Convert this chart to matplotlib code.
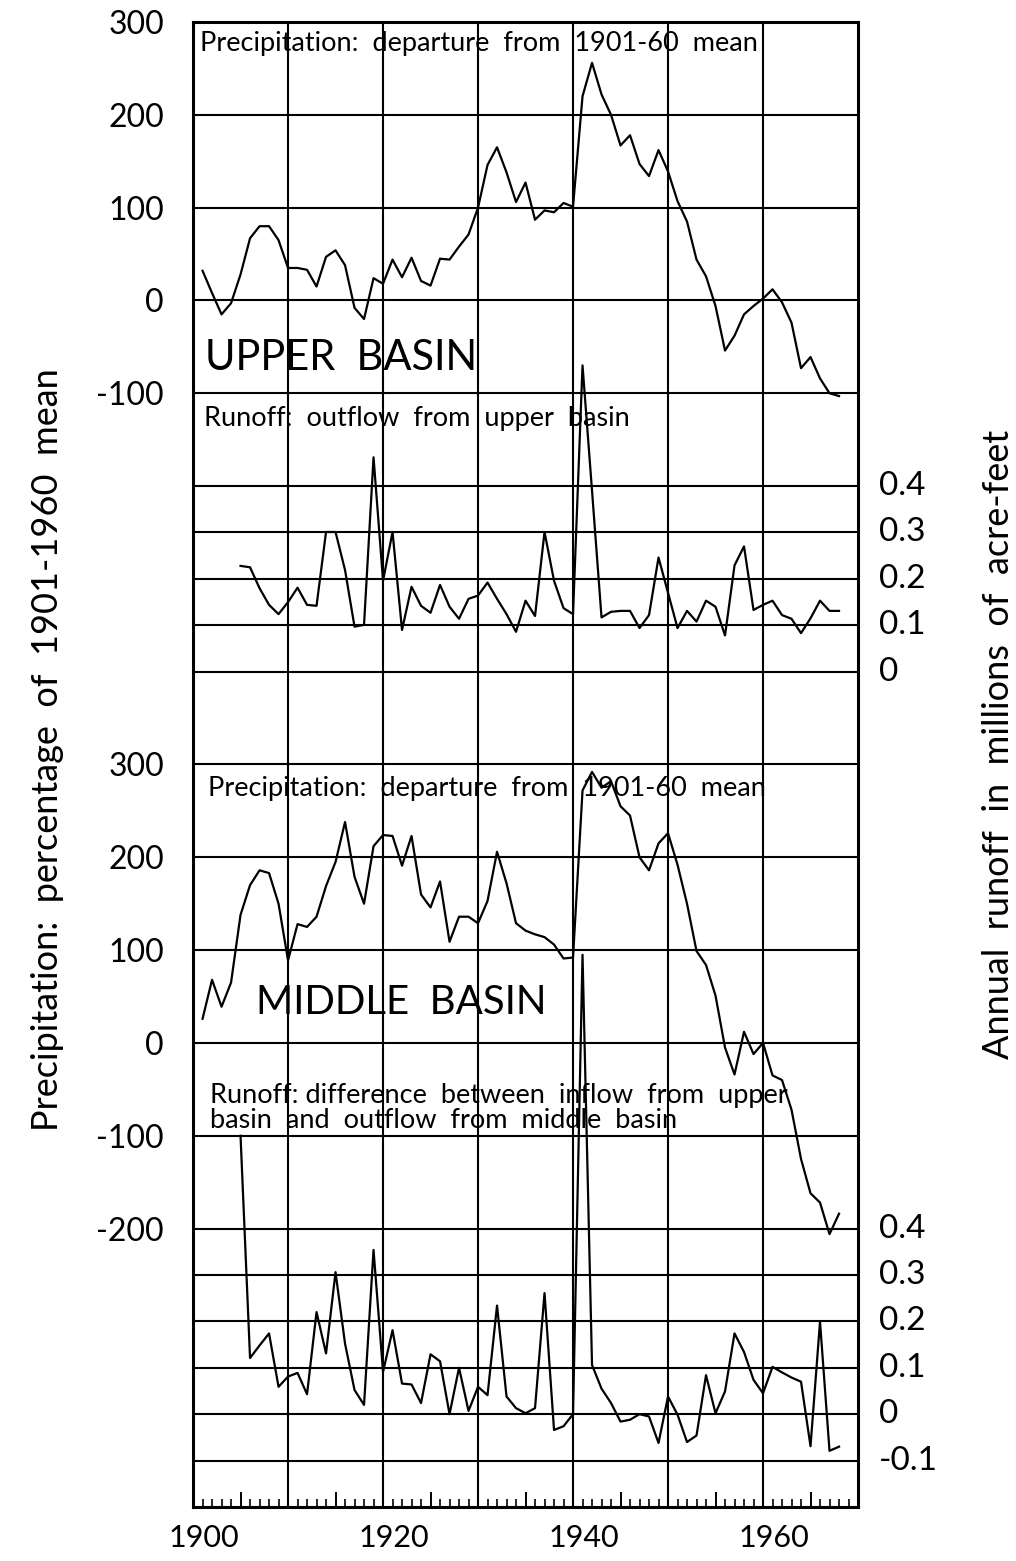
import matplotlib
matplotlib.use("Agg")
import matplotlib.pyplot as plt
from matplotlib.ticker import MultipleLocator, FuncFormatter
from matplotlib.transforms import blended_transform_factory, ScaledTranslation

plt.rcParams["font.family"] = ["Lato", "DejaVu Sans"]

# ---- data -------------------------------------------------------------
precip_years = list(range(1901, 1969))
runoff_years = list(range(1905, 1969))

# precipitation, departure from 1901-60 mean (per cent)
upper_precip = [32, 8, -15, -3, 28, 67, 80, 80, 65, 35,
                35, 33, 15, 47, 54, 38, -8, -20, 24, 18,
                44, 25, 46, 21, 16, 45, 44, 58, 71, 100,
                146, 165, 138, 106, 127, 87, 97, 95, 105, 101,
                220, 256, 222, 200, 167, 178, 147, 134, 162, 139,
                107, 85, 44, 26, -6, -54, -38, -15, -6, 2,
                12, -2, -24, -73, -61, -84, -100, -103]

middle_precip = [26, 68, 39, 65, 138, 170, 186, 183, 150, 89,
                 128, 125, 136, 169, 195, 238, 179, 150, 212, 224,
                 223, 191, 223, 160, 146, 174, 109, 136, 136, 129,
                 153, 206, 172, 129, 121, 117, 114, 106, 91, 92,
                 272, 292, 275, 282, 255, 245, 200, 186, 215, 226,
                 192, 150, 99, 84, 51, -5, -34, 12, -12, 0,
                 -35, -40, -72, -125, -162, -172, -206, -184]

# annual runoff, millions of acre-feet
upper_runoff = [0.228, 0.225, 0.18, 0.144, 0.124, 0.15,
                0.181, 0.144, 0.142, 0.301, 0.301, 0.219, 0.097, 0.101, 0.462, 0.196,
                0.301, 0.090, 0.183, 0.142, 0.127, 0.187, 0.140, 0.114, 0.157, 0.164,
                0.192, 0.157, 0.124, 0.086, 0.153, 0.120, 0.301, 0.196, 0.137, 0.124,
                0.66, 0.39, 0.117, 0.129, 0.131, 0.131, 0.094, 0.122, 0.246, 0.17,
                0.094, 0.131, 0.108, 0.153, 0.140, 0.078, 0.229, 0.270, 0.133, 0.144,
                0.153, 0.122, 0.114, 0.083, 0.115, 0.153, 0.131, 0.131]

middle_runoff = [0.60, 0.121, 0.148, 0.174, 0.059, 0.081,
                 0.089, 0.043, 0.22, 0.131, 0.306, 0.152, 0.052, 0.02, 0.354, 0.091,
                 0.181, 0.066, 0.064, 0.024, 0.129, 0.114, 0.0, 0.1, 0.007, 0.059,
                 0.041, 0.234, 0.038, 0.013, 0.002, 0.013, 0.261, -0.034, -0.026, 0.0,
                 0.99, 0.106, 0.055, 0.024, -0.016, -0.012, 0.0, -0.005, -0.062, 0.038,
                 -0.001, -0.060, -0.046, 0.084, 0.002, 0.049, 0.174, 0.134, 0.074, 0.045,
                 0.102, 0.090, 0.079, 0.070, -0.069, 0.199, -0.079, -0.070]

precip_tick_labels = ["300", "200", "100", "0", "-100"]
precip_tick_labels_mid = ["300", "200", "100", "0", "-100", "-200"]
runoff_tick_labels_up = ["0.4", "0.3", "0.2", "0.1", "0"]
runoff_tick_labels_mid = ["0.4", "0.3", "0.2", "0.1", "0", "-0.1"]
year_labels = ["1900", "1920", "1940", "1960"]

# ---- stacking of the four panels on one shared vertical scale ---------
MID_PRECIP_SHIFT = -800      # middle-basin precipitation sits 800 units lower
RUNOFF_UNIT = 500            # 0.1 million acre-feet spans 50 units
UP_RUNOFF_ZERO = -400
MID_RUNOFF_ZERO = -1200


def runoff_pos(values, zero):
    return [zero + RUNOFF_UNIT * v for v in values]


fig = plt.figure(figsize=(10.16, 15.61), dpi=100)
ax = fig.add_axes([0.190, 0.0346, 0.6545, 0.9513])
ax.set_xlim(1900, 1970)
ax.set_ylim(-1300, 300)

# grid
grid_kw = dict(color="black", lw=1.5, zorder=1)
hlines = [200, 100, 0, -100, -200, -250, -300, -350, -400, -500,
          -600, -700, -800, -900, -1000, -1050, -1100, -1150, -1200, -1250]
for h in hlines:
    ax.axhline(h, **grid_kw)
for d in range(1910, 1970, 10):
    ax.axvline(d, **grid_kw)

for s in ax.spines.values():
    s.set_linewidth(2.2)

# series
line_kw = dict(color="black", lw=1.6, zorder=3)
ax.plot(precip_years, upper_precip, **line_kw)
ax.plot(runoff_years, runoff_pos(upper_runoff, UP_RUNOFF_ZERO), **line_kw)
ax.plot(precip_years, [v + MID_PRECIP_SHIFT for v in middle_precip], **line_kw)
ax.plot(runoff_years, runoff_pos(middle_runoff, MID_RUNOFF_ZERO), **line_kw)

# left axis: precipitation percentages
left_pos = [300, 200, 100, 0, -100] + [300 + MID_PRECIP_SHIFT - 100 * i for i in range(6)]
ax.set_yticks(left_pos, precip_tick_labels + precip_tick_labels_mid)
ax.tick_params(axis="y", length=0, pad=21, labelsize=23)

# right axis: runoff values
tr = blended_transform_factory(ax.transAxes, ax.transData)
for i, lab in enumerate(runoff_tick_labels_up):
    ax.text(1.032, UP_RUNOFF_ZERO + RUNOFF_UNIT * (0.4 - 0.1 * i), lab,
            transform=tr, ha="left", va="center", fontsize=24)
for i, lab in enumerate(runoff_tick_labels_mid):
    ax.text(1.032, MID_RUNOFF_ZERO + RUNOFF_UNIT * (0.4 - 0.1 * i), lab,
            transform=tr, ha="left", va="center", fontsize=24)

# bottom axis: yearly ticks, longer every five years
def year_fmt(x, _):
    k = int(round(x - 1900))
    if k % 20 == 0 and 0 <= k // 20 < len(year_labels):
        return year_labels[k // 20]
    return ""


ax.xaxis.set_major_locator(MultipleLocator(5))
ax.xaxis.set_minor_locator(MultipleLocator(1))
ax.xaxis.set_major_formatter(FuncFormatter(year_fmt))
ax.tick_params(axis="x", which="major", direction="in", length=11, width=1.4,
               pad=12, labelsize=22)
ax.tick_params(axis="x", which="minor", direction="in", length=6, width=1.2)
shift = ScaledTranslation(8 / 72, 0, fig.dpi_scale_trans)
for lab in ax.xaxis.get_majorticklabels():
    lab.set_transform(lab.get_transform() + shift)

# axis titles
fig.text(0.047, 0.52, "Precipitation:  percentage  of  1901-1960  mean",
         rotation=90, ha="center", va="center", fontsize=26)
fig.text(0.983, 0.523, "Annual  runoff  in  millions  of  acre-feet",
         rotation=90, ha="center", va="center", fontsize=26)

# panel annotations
small = 19.5
ax.text(1900.7, 277, "Precipitation:  departure  from  1901-60  mean",
        ha="left", va="center", fontsize=small)
ax.text(1901.3, -62, "UPPER  BASIN", ha="left", va="center", fontsize=30)
ax.text(1901.2, -127, "Runoff:  outflow  from  upper  basin",
        ha="left", va="center", fontsize=small)
ax.text(1901.6, -526, "Precipitation:  departure  from  1901-60  mean",
        ha="left", va="center", fontsize=small)
ax.text(1906.6, -756, "MIDDLE  BASIN", ha="left", va="center", fontsize=29)
ax.text(1901.8, -870, "Runoff: difference  between  inflow  from  upper\n"
        "basin  and  outflow  from  middle  basin",
        ha="left", va="center", fontsize=small, linespacing=1.0)

fig.savefig("out.png", dpi=100)
